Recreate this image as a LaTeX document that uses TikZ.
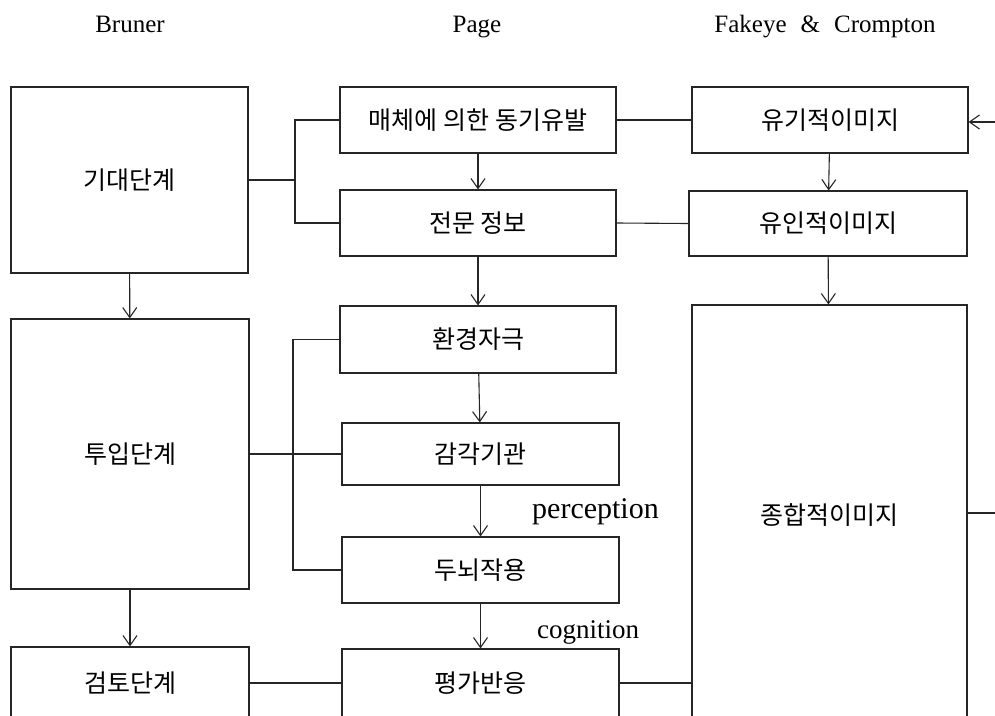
\documentclass[tikz,border=0pt]{standalone}
\usepackage{fontspec}
\setmainfont{Liberation Serif}
\newfontfamily\kr{Noto Sans CJK KR}
\usetikzlibrary{arrows.meta}

\begin{document}
\begin{tikzpicture}[x=1pt,y=-1pt,line width=1.1pt,draw=black!85,
    box/.style={draw,inner sep=0pt,font=\kr\fontsize{25}{29}\selectfont},
    arr/.style={-{Straight Barb[length=10pt,width=14pt]}},
    head/.style={anchor=base,inner sep=0pt,font=\fontsize{25}{29}\selectfont}]
\useasboundingbox (0,0) rectangle (995,715);
\clip (0,0) rectangle (995,715);
\node[head] (hB) at (130,32) {Bruner};
\node[head] (hP) at (477,32) {Page};
\node[head] (hF) at (825,32) {Fakeye\hspace{14pt}\&\hspace{14pt}Crompton};
\node[box,minimum width=237,minimum height=186] (ex) at (129.5,180) {기대단계};
\node[box,minimum width=238,minimum height=270] (in) at (130,454) {투입단계};
\node[box,minimum width=238,minimum height=72] (rv) at (130,683) {검토단계};
\node[box,minimum width=276,minimum height=66] (media) at (478,120) {매체에 의한 동기유발};
\node[box,minimum width=276,minimum height=66] (info) at (478,223) {전문 정보};
\node[box,minimum width=276,minimum height=67] (env) at (478,339.5) {환경자극};
\node[box,minimum width=277,minimum height=62] (sense) at (480.5,454) {감각기관};
\node[box,minimum width=277,minimum height=66] (brain) at (480.5,570) {두뇌작용};
\node[box,minimum width=277,minimum height=68] (eval) at (480.5,683) {평가반응};
\node[box,minimum width=276,minimum height=66] (org) at (830,120) {유기적이미지};
\node[box,minimum width=278,minimum height=65] (ind) at (828,223.5) {유인적이미지};
\node[box,minimum width=275,minimum height=420] (comp) at (829.5,515) {종합적이미지};
\node[head,font=\fontsize{30}{34}\selectfont] (perc) at (595.5,518) {perception};
\node[head,font=\fontsize{27}{31}\selectfont] (cogn) at (588,638) {cognition};
\coordinate (busA) at (295,0);
\coordinate (busB) at (293,0);
\coordinate (fbOut) at (1000,513);
\coordinate (fbIn) at (1000,122);
\foreach \a/\b in {ex/in,in/rv,media/info,info/env,env/sense,sense/brain,brain/eval,org/ind,ind/comp}
    \draw[arr] (\a) -- (\b);
\draw (ex.east) -- (ex.east -| busA);
\draw (media.west) -- (media.west -| busA) |- (info.west);
\draw (env.west) -- (env.west -| busB) |- (brain.west);
\draw (in.east) -- (sense.west);
\draw (rv.east) -- (eval.west);
\draw (media.east) -- (org.west);
\draw (info.east) -- (ind.west);
\draw (eval.east) -- (eval.east -| comp.west);
\draw (comp.east |- fbOut) -- (fbOut);
\draw[arr] (fbIn) -- (fbIn -| org.east);
\end{tikzpicture}
\end{document}
